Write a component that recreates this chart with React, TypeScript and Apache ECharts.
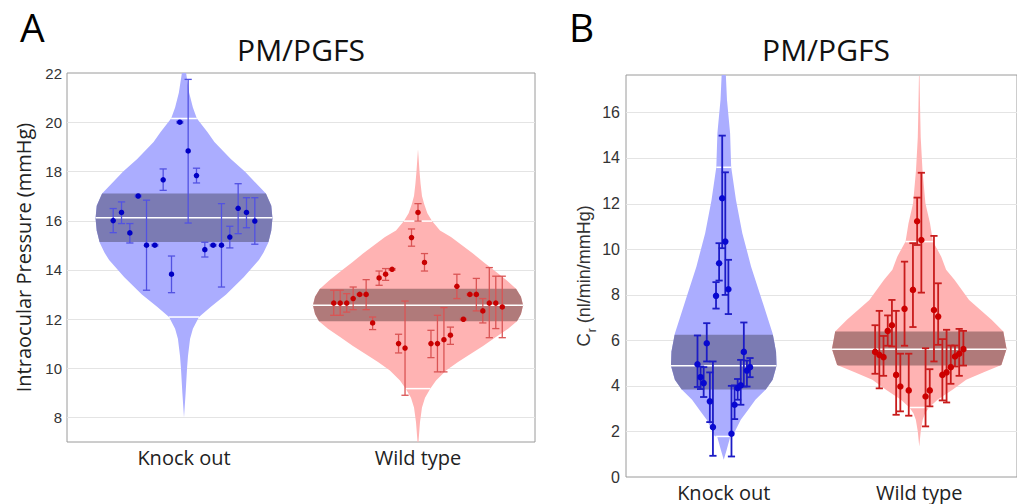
import React, { useEffect, useRef } from "react";
import * as echarts from "echarts";

const categories = ["Knock out", "Wild type"];
const panelTitles = ["PM/PGFS", "PM/PGFS"];
const panelLetters = ["A", "B"];
const yNameA = "Intraocular Pressure (mmHg)";

const gridTicksA = [8, 10, 12, 14, 16, 18, 20];
const gridTicksB = [2, 4, 6, 8, 10, 12, 14, 16];

// ---------- Panel A : Intraocular pressure ----------
const koA_mean = [16.0, 16.33, 15.5, 17.0, 15.0, 15.0, 17.66, 13.82, 20.0, 18.83, 17.83, 14.82, 15.0, 15.0, 15.33, 16.5, 16.33, 15.98];
const koA_lo = [15.51, 15.88, 15.09, 16.97, 13.17, 14.97, 17.23, 13.07, 19.97, 15.9, 17.53, 14.52, 14.97, 13.3, 14.89, 15.47, 15.71, 15.04];
const koA_hi = [16.49, 16.76, 15.88, 17.03, 16.83, 15.03, 18.1, 14.56, 20.03, 21.74, 18.13, 15.12, 15.03, 16.69, 15.77, 17.5, 16.93, 16.93];

const wtA_mean = [12.65, 12.65, 12.65, 12.83, 13.0, 13.0, 11.84, 13.67, 13.82, 14.02, 11.0, 10.82, 15.31, 16.33, 14.3, 11.0, 11.0, 11.16, 11.34, 13.33, 11.99, 13.0, 13.0, 12.33, 12.65, 12.65, 12.49];
const wtA_lo = [12.15, 12.15, 12.28, 12.38, 12.97, 12.38, 11.57, 13.37, 13.57, 13.99, 10.62, 8.9, 14.96, 15.98, 13.95, 10.43, 9.85, 9.85, 10.97, 12.83, 11.96, 12.97, 12.33, 11.84, 11.24, 11.61, 11.24];
const wtA_hi = [13.17, 13.17, 13.03, 13.3, 13.03, 13.6, 12.08, 13.95, 14.05, 14.05, 11.38, 12.73, 15.66, 16.69, 14.66, 11.54, 12.15, 12.46, 11.67, 13.82, 12.02, 13.03, 13.65, 12.83, 14.09, 13.74, 13.74];

// violin outlines: [value, half width in category-band units]
const koA_profile = [[22.6, 0.004], [22.0, 0.009], [21.2, 0.022], [20.6, 0.038], [20.15, 0.055], [19.6, 0.1], [19.2, 0.13], [18.5, 0.2], [18.0, 0.26], [17.5, 0.31], [17.1, 0.35], [16.6, 0.373], [16.1, 0.378], [15.6, 0.373], [15.1, 0.36], [14.7, 0.34], [14.4, 0.32], [13.7, 0.255], [13.0, 0.18], [12.5, 0.115], [12.08, 0.064], [11.6, 0.038], [11.2, 0.026], [10.5, 0.017], [10.0, 0.013], [9.0, 0.007], [8.0, 0.0]];
const wtA_profile = [[18.9, 0], [18.0, 0.0065], [17.5, 0.011], [17.0, 0.017], [16.69, 0.026], [16.3, 0.04], [15.98, 0.06], [15.6, 0.094], [15.33, 0.141], [15.0, 0.188], [14.66, 0.235], [14.3, 0.282], [13.98, 0.325], [13.6, 0.376], [13.23, 0.419], [12.9, 0.44], [12.56, 0.449], [12.2, 0.44], [11.91, 0.423], [11.6, 0.385], [11.27, 0.333], [10.9, 0.278], [10.59, 0.226], [10.25, 0.171], [9.91, 0.12], [9.5, 0.077], [9.17, 0.053], [8.8, 0.03], [8.4, 0.017], [7.8, 0.0085], [7.0, 0.002]];
// [q1, median, q3]
const koA_box = [15.13, 16.12, 17.1];
const wtA_box = [11.91, 12.56, 13.23];
// white marks [low, high]
const koA_marks = [12.08, 20.15];
const wtA_marks = [9.17, 15.98];

// ---------- Panel B : outflow facility ----------
const koB_mean = [4.95, 4.38, 4.12, 5.87, 3.32, 2.19, 7.95, 9.38, 12.23, 10.33, 8.24, 1.9, 3.17, 3.9, 4.02, 5.49, 4.67, 4.82];
const koB_lo = [3.95, 3.86, 3.51, 5.07, 2.41, 0.93, 7.39, 8.62, 10.04, 7.99, 7.15, 0.9, 2.54, 3.39, 3.17, 3.97, 3.97, 4.38];
const koB_hi = [6.21, 4.85, 4.82, 6.75, 4.59, 5.07, 8.55, 10.26, 14.98, 13.37, 9.53, 4.0, 4.02, 4.3, 5.14, 6.78, 5.11, 5.22];

const wtB_mean = [5.49, 5.36, 5.26, 6.41, 6.66, 4.48, 3.97, 7.38, 3.8, 8.21, 11.22, 10.4, 3.53, 3.8, 7.33, 7.04, 4.48, 4.59, 4.82, 5.29, 5.41, 5.61];
const wtB_lo = [4.53, 3.89, 4.44, 5.76, 5.73, 2.73, 2.88, 5.76, 2.69, 6.58, 10.18, 8.09, 2.22, 3.1, 5.07, 5.8, 3.36, 3.27, 4.09, 4.85, 4.44, 4.89];
const wtB_hi = [6.66, 7.29, 6.19, 7.09, 7.77, 7.29, 5.41, 9.45, 5.41, 10.26, 12.26, 13.35, 5.65, 4.73, 10.58, 8.5, 6.05, 6.46, 5.77, 5.77, 6.5, 6.41];

const koB_profile = [[18.0, 0.006], [17.6, 0.011], [16.55, 0.0165], [15.08, 0.0325], [13.6, 0.038], [12.16, 0.0625], [10.7, 0.095], [9.23, 0.14], [7.77, 0.195], [6.3, 0.25], [5.5, 0.2675], [4.88, 0.27], [4.27, 0.25], [3.84, 0.215], [3.39, 0.162], [2.95, 0.125], [2.51, 0.087], [2.08, 0.062], [1.8, 0.047], [1.75, 0.033], [1.2, 0.015], [0.76, 0]];
const wtB_profile = [[17.6, 0.0015], [16.3, 0.004], [14.9, 0.0075], [13.47, 0.0165], [12.01, 0.0315], [11.13, 0.055], [10.33, 0.07], [9.67, 0.1125], [9.09, 0.1375], [8.65, 0.18], [7.77, 0.255], [6.9, 0.37], [6.38, 0.43], [5.62, 0.4465], [4.92, 0.42], [4.6, 0.33], [4.27, 0.24], [3.83, 0.17], [3.4, 0.095], [3.05, 0.05], [2.8, 0.03], [2.51, 0.0175], [2.0, 0.0075], [1.34, 0]];
const koB_box = [3.84, 4.88, 6.24];
const wtB_box = [4.89, 5.61, 6.38];
const koB_marks = [1.78, 13.59];
const wtB_marks = [3.05, 10.33];

type Prof = number[][];

function interp(p: Prof, v: number): number {
  for (let i = 0; i < p.length - 1; i++) {
    const [v0, w0] = p[i];
    const [v1, w1] = p[i + 1];
    if (v <= v0 && v >= v1) {
      const t = (v0 - v) / (v0 - v1 || 1);
      return w0 + (w1 - w0) * t;
    }
  }
  return 0;
}

function slice(p: Prof, lo: number, hi: number): Prof {
  const mid = p.filter((d) => d[0] < hi && d[0] > lo);
  return [[hi, interp(p, hi)], ...mid, [lo, interp(p, lo)]];
}

const BOX_FONT = "Liberation Sans";
const TXT_FONT = "Open Sans";

function buildOption() {
  const panels = [
    {
      grid: { left: 67, top: 73, width: 468, height: 369 },
      y: { min: 7, max: 22, interval: 1 },
      ticks: gridTicksA,
      tickFont: 15,
      symbolSize: 5.5,
      errWidth: 1.3,
      capHalf: 3.6,
      groups: [
        { mean: koA_mean, lo: koA_lo, hi: koA_hi, profile: koA_profile, box: koA_box, marks: koA_marks, step: 0.0356, fill: "#abadff", band: "#7b7bb3", err: "#5252e2", dot: "#0000c4" },
        { mean: wtA_mean, lo: wtA_lo, hi: wtA_hi, profile: wtA_profile, box: wtA_box, marks: wtA_marks, step: 0.0277, fill: "#ffb3b3", band: "#b07a7a", err: "#da5454", dot: "#c80000" },
      ],
    },
    {
      grid: { left: 626, top: 75, width: 400, height: 402 },
      y: { min: 0, max: 17.64, interval: 2 },
      ticks: gridTicksB,
      tickFont: 16,
      symbolSize: 6.5,
      errWidth: 1.8,
      capHalf: 3.6,
      groups: [
        { mean: koB_mean, lo: koB_lo, hi: koB_hi, profile: koB_profile, box: koB_box, marks: koB_marks, step: 0.0158, fill: "#abadff", band: "#7b7bb3", err: "#1c1cc6", dot: "#0808d0" },
        { mean: wtB_mean, lo: wtB_lo, hi: wtB_hi, profile: wtB_profile, box: wtB_box, marks: wtB_marks, step: 0.0215, fill: "#ffb3b3", band: "#b07a7a", err: "#c81c1c", dot: "#cc0000" },
      ],
    },
  ];

  const grids: any[] = [];
  const xAxes: any[] = [];
  const yAxes: any[] = [];
  const series: any[] = [];

  panels.forEach((P, pi) => {
    grids.push({ ...P.grid, show: true, borderColor: "#9a9a9a", borderWidth: 1, backgroundColor: "#ffffff", containLabel: false });
    xAxes.push({
      type: "category",
      gridIndex: pi,
      data: categories,
      boundaryGap: true,
      axisLine: { show: false },
      axisTick: { show: false },
      splitLine: { show: false },
      axisLabel: { fontSize: 20, fontFamily: TXT_FONT, color: "#222", margin: 5 },
    });
    xAxes.push({ type: "value", gridIndex: pi, min: -0.5, max: 1.5, show: false });
    const mod = 2;
    yAxes.push({
      type: "value",
      gridIndex: pi,
      min: P.y.min,
      max: P.y.max,
      interval: P.y.interval,
      axisLine: { show: false },
      axisTick: { show: false },
      splitLine: { show: false },
      axisLabel: {
        fontSize: P.tickFont,
        fontFamily: BOX_FONT,
        color: "#333",
        margin: pi === 0 ? 5 : 6,
        showMaxLabel: true,
        formatter: (v: number) => (Math.abs(v % mod) < 1e-9 ? String(v) : ""),
      },
      nameLocation: "middle",
      ...(pi === 0
        ? {
            name: yNameA,
            nameGap: 34,
            nameTextStyle: { fontSize: 20, fontFamily: TXT_FONT, color: "#222" },
          }
        : {
            name: "{c|C}{s|r}{t| (nl/min/mmHg)}",
            nameGap: 28,
            nameTextStyle: {
              fontFamily: BOX_FONT,
              color: "#333",
              rich: {
                c: { fontSize: 19, fontFamily: BOX_FONT, color: "#333" },
                s: { fontSize: 12, fontFamily: BOX_FONT, color: "#333", verticalAlign: "top", padding: [17, 0, 0, 1] },
                t: { fontSize: 18, fontFamily: BOX_FONT, color: "#333" },
              },
            },
          }),
    });

    const xi = pi * 2 + 1;
    // grid lines
    series.push({
      type: "custom",
      xAxisIndex: xi,
      yAxisIndex: pi,
      silent: true,
      z: 1,
      data: P.ticks.map((v) => [0, v]),
      renderItem: (params: any, api: any) => {
        const v = api.value(1);
        const a = api.coord([-0.5, v]);
        const b = api.coord([1.5, v]);
        const y = Math.round(a[1]) + 0.5;
        return { type: "line", shape: { x1: a[0], y1: y, x2: b[0], y2: y }, style: { stroke: "#e4e4e4", lineWidth: 1 } };
      },
    });
    // violins
    series.push({
      type: "custom",
      xAxisIndex: xi,
      yAxisIndex: pi,
      silent: true,
      clip: true,
      z: 2,
      data: P.groups.map((_, gi) => [gi, 0]),
      renderItem: (params: any, api: any) => {
        const gi = api.value(0);
        const g = P.groups[gi];
        const c = gi;
        const outline = (prof: Prof) => {
          const right = prof.map(([v, w]) => api.coord([c + w, v]));
          const left = prof.slice().reverse().map(([v, w]) => api.coord([c - w, v]));
          return right.concat(left);
        };
        const wline = (v: number) => {
          const w = interp(g.profile, v);
          const a = api.coord([c - w, v]);
          const b = api.coord([c + w, v]);
          return { type: "line", shape: { x1: a[0], y1: a[1], x2: b[0], y2: b[1] }, style: { stroke: "#ffffff", lineWidth: 1.5 } };
        };
        return {
          type: "group",
          children: [
            { type: "polygon", shape: { points: outline(g.profile) }, style: { fill: g.fill } },
            { type: "polygon", shape: { points: outline(slice(g.profile, g.box[0], g.box[2])) }, style: { fill: g.band } },
            wline(g.box[1]),
            wline(g.marks[0]),
            wline(g.marks[1]),
          ],
        };
      },
    });
    P.groups.forEach((g, gi) => {
      const n = g.mean.length;
      const xs = g.mean.map((_, i) => gi + (i - (n - 1) / 2) * g.step);
      // error bars
      series.push({
        type: "custom",
        xAxisIndex: xi,
        yAxisIndex: pi,
        silent: true,
        z: 3,
        encode: { x: 0, y: [1, 2] },
        data: xs.map((x, i) => [x, g.lo[i], g.hi[i]]),
        renderItem: (params: any, api: any) => {
          const x = api.value(0);
          const a = api.coord([x, api.value(1)]);
          const b = api.coord([x, api.value(2)]);
          const st = { stroke: g.err, lineWidth: P.errWidth };
          const h = P.capHalf;
          return {
            type: "group",
            children: [
              { type: "line", shape: { x1: a[0], y1: a[1], x2: b[0], y2: b[1] }, style: st },
              { type: "line", shape: { x1: a[0] - h, y1: a[1], x2: a[0] + h, y2: a[1] }, style: st },
              { type: "line", shape: { x1: b[0] - h, y1: b[1], x2: b[0] + h, y2: b[1] }, style: st },
            ],
          };
        },
      });
      // points
      series.push({
        type: "scatter",
        xAxisIndex: xi,
        yAxisIndex: pi,
        silent: true,
        z: 4,
        symbol: "circle",
        symbolSize: P.symbolSize,
        itemStyle: { color: g.dot, opacity: 1 },
        data: xs.map((x, i) => [x, g.mean[i]]),
      });
    });
  });

  const graphic = [
    { type: "text", x: 20, y: 26, style: { text: panelLetters[0], fontSize: 39, fontFamily: TXT_FONT, fill: "#000", textAlign: "left", textVerticalAlign: "middle" } },
    { type: "text", x: 569, y: 26.5, style: { text: panelLetters[1], fontSize: 39, fontFamily: TXT_FONT, fill: "#000", textAlign: "left", textVerticalAlign: "middle" } },
    { type: "text", x: 301, y: 49, style: { text: panelTitles[0], fontSize: 30, fontFamily: TXT_FONT, fill: "#111", textAlign: "center", textVerticalAlign: "middle" } },
    { type: "text", x: 826, y: 49, style: { text: panelTitles[1], fontSize: 30, fontFamily: TXT_FONT, fill: "#111", textAlign: "center", textVerticalAlign: "middle" } },
  ];

  return {
    animation: false,
    backgroundColor: "#ffffff",
    grid: grids,
    xAxis: xAxes,
    yAxis: yAxes,
    series,
    graphic,
  };
}

export default function App() {
  const ref = useRef<HTMLDivElement>(null);
  useEffect(() => {
    document.body.style.margin = "0";
    const chart = echarts.init(ref.current as HTMLDivElement, null, { renderer: "svg" });
    chart.setOption(buildOption() as any);
    return () => chart.dispose();
  }, []);
  return <div ref={ref} style={{ width: 1017, height: 504 }} />;
}
